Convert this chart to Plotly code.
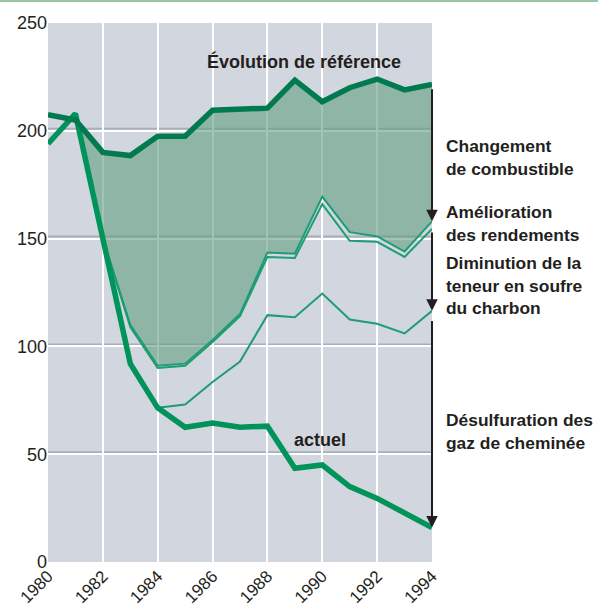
import plotly.graph_objects as go

# ---------------- data ----------------
years = list(range(1980, 1995))
reference = [207.5, 205, 190, 188.5, 197.5, 197.5, 209.5, 210, 210.5, 223.5, 213.5, 220, 224, 219, 221.5]
actual = [194, 208, 150, 92, 71.5, 62.5, 64.5, 62.5, 63, 43.5, 45, 35, 29.5, 23, 16]
years_a = list(range(1981, 1995))
combustible = [208, 150, 110, 91, 92, 103, 115, 143.5, 143, 169.5, 153, 151, 144, 158]
years_b = list(range(1982, 1995))
rendements = [150, 109, 90, 91, 102, 114, 141.5, 141, 166, 149, 148.5, 141.5, 154.5]
years_c = list(range(1984, 1995))
soufre = [71.5, 73, 83.5, 93, 114.5, 113.5, 124.5, 112.5, 110.5, 106, 116.5]

y_ticks = [0, 50, 100, 150, 200, 250]
x_ticks = list(range(1980, 1995, 2))

label_ref = "Évolution de référence"
label_act = "actuel"
labels_right = [
    "Changement<br>de combustible",
    "Amélioration<br>des rendements",
    "Diminution de la<br>teneur en soufre<br>du charbon",
    "Désulfuration des<br>gaz de cheminée",
]

# ---------------- style ----------------
BG = "#D2D6DE"
FILL = "rgba(98,158,128,0.6)"
DARK = "#007A4E"
BRIGHT = "#00935A"
THIN = "#1E9C74"
INK = "#231F20"
FONT = "Liberation Sans"

fig = go.Figure()

# filled band between reference and lower boundary
fig.add_trace(go.Scatter(x=years_a, y=combustible, mode="lines",
                         line=dict(width=0), hoverinfo="skip", showlegend=False))
fig.add_trace(go.Scatter(x=years_a, y=reference[1:], mode="lines", fill="tonexty",
                         fillcolor=FILL, line=dict(width=0), hoverinfo="skip", showlegend=False))

# thin lines
for xs, ys in [(years_a, combustible), (years_b, rendements), (years_c, soufre)]:
    fig.add_trace(go.Scatter(x=xs, y=ys, mode="lines",
                             line=dict(color=THIN, width=2), showlegend=False))

# thick lines
fig.add_trace(go.Scatter(x=years, y=actual, mode="lines",
                         line=dict(color=BRIGHT, width=5.5), showlegend=False))
fig.add_trace(go.Scatter(x=years, y=reference, mode="lines",
                         line=dict(color=DARK, width=5.5), showlegend=False))

shapes = []
# embossed grey line above each horizontal gridline
for v in y_ticks[1:-1]:
    shapes.append(dict(type="line", xref="paper", x0=0, x1=1, yref="y",
                       ysizemode="pixel", yanchor=v, y0=2, y1=2,
                       line=dict(color="#A9AEB9", width=2), layer="below"))
# top green rule
shapes.append(dict(type="rect", xref="paper", x0=-0.2, x1=1.5, yref="paper",
                   ysizemode="pixel", yanchor=1, y0=21, y1=24,
                   fillcolor="#9CC5A2", line=dict(width=0)))
# leader tick for "Amélioration des rendements"
mid = (combustible[-1] + rendements[-1]) / 2
shapes.append(dict(type="line", xref="x", xsizemode="pixel", xanchor=years[-1], x0=0, x1=14,
                   yref="y", y0=mid, y1=mid, line=dict(color=INK, width=1.5)))

annotations = []
xe = years[-1]
for tail, tip in [(reference[-1] - 1.5, combustible[-1]),
                  (rendements[-1] - 1, soufre[-1]),
                  (soufre[-1] - 4, actual[-1])]:
    annotations.append(dict(x=xe, y=tip, ax=xe, ay=tail, xref="x", yref="y",
                            axref="x", ayref="y", text="", showarrow=True,
                            arrowhead=2, arrowsize=1.15, arrowwidth=2,
                            arrowcolor=INK, standoff=0, startstandoff=0))

tfont = dict(family=FONT, size=18, color=INK, weight="bold")
rfont = dict(family=FONT, size=17.4, color=INK, weight="bold")
annotations.append(dict(x=1989.32, y=232, xref="x", yref="y", text=label_ref,
                        showarrow=False, font=tfont))
annotations.append(dict(x=1989.9, y=56.6, xref="x", yref="y", text=label_act,
                        showarrow=False, font=tfont))
for txt, yv in zip(labels_right, [187.8, 156.8, 128.2, 60.6]):
    annotations.append(dict(x=1.032, y=yv, xref="paper", yref="y", text=txt,
                            xanchor="left", align="left", showarrow=False, font=rfont))

fig.update_layout(
    width=598, height=608,
    margin=dict(l=48, r=166, t=23, b=46, autoexpand=False),
    paper_bgcolor="white", plot_bgcolor=BG,
    font=dict(family=FONT, size=18, color=INK),
    shapes=shapes, annotations=annotations,
    xaxis=dict(range=[1980, 1994], tickvals=x_ticks, tickangle=-45,
               showgrid=True, gridcolor="white", gridwidth=2, zeroline=False,
               showline=False, ticks="", automargin=False,
               tickfont=dict(family=FONT, size=17, color=INK)),
    yaxis=dict(range=[0, 250], tickvals=y_ticks,
               showgrid=True, gridcolor="white", gridwidth=2, zeroline=False,
               showline=False, ticks="", automargin=False,
               tickfont=dict(family=FONT, size=18, color=INK)),
)

fig.write_html("out.html", config={"displayModeBar": False},
               post_script="document.body.style.margin='0';document.body.style.overflow='hidden';")
